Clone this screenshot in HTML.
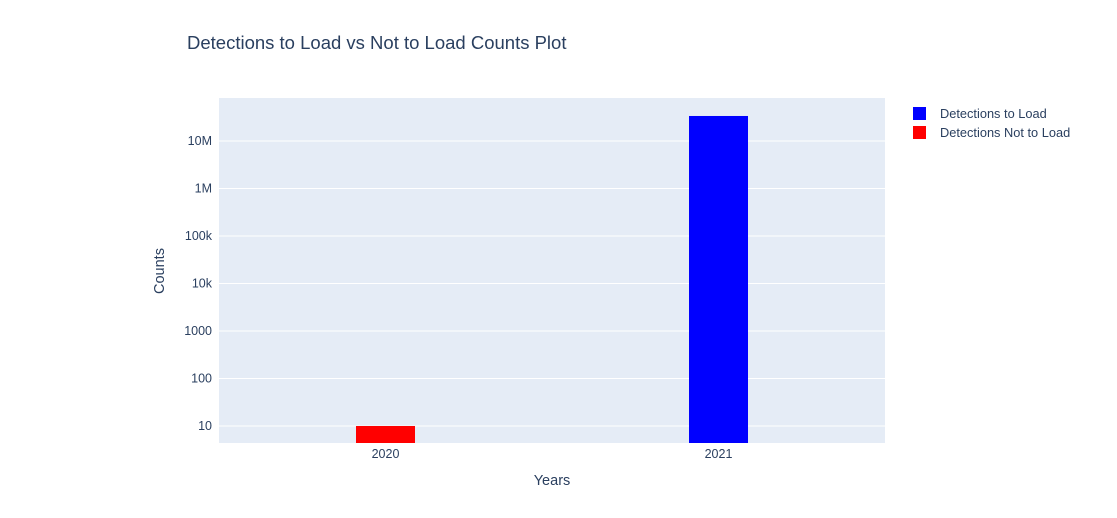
<!DOCTYPE html>
<html><head><meta charset="utf-8"><style>
body{margin:0;background:#fff;font-family:"Liberation Sans",Arial,sans-serif}
svg text{font-family:"Liberation Sans",Arial,sans-serif}
</style></head><body>
<svg id="c" width="1117" height="513">
<rect x="0" y="0" width="1117" height="513" fill="#fff"/>
<text x="187" y="49" font-size="18.5" fill="#2a3f5f">Detections to Load vs Not to Load Counts Plot</text>
<rect x="219" y="98" width="666" height="345" fill="#e5ecf6"/>
<g id="grid"></g><g id="bars"></g><g id="ticks"></g>
<text x="552" y="485" font-size="14.5" fill="#2a3f5f" text-anchor="middle">Years</text>
<text x="164" y="271" font-size="14.5" fill="#2a3f5f" text-anchor="middle" transform="rotate(-90 164 271)">Counts</text>
<g><rect x="913" y="107" width="13" height="13" fill="#0000ff"/><text x="940" y="118" font-size="12.8" fill="#2a3f5f">Detections to Load</text></g>
<g><rect x="913" y="126" width="13" height="13" fill="#ff0000"/><text x="940" y="137" font-size="12.8" fill="#2a3f5f">Detections Not to Load</text></g>
</svg>
<script>
const categories=["2020","2021"];
const loadValues=[0,33600000];
const notLoadValues=[10,0];
const tickValues=[10,100,1000,10000,100000,1000000,10000000];
const tickLabels=["10","100","1000","10k","100k","1M","10M"];
const NS="http://www.w3.org/2000/svg";
const X0=219,W=666,Y0=98,H=345,LMIN=0.642,LMAX=7.905;
function y(v){return Y0+H-(Math.log10(v)-LMIN)/(LMAX-LMIN)*H;}
function xc(i){return X0+W*(i+0.5)/categories.length;}
function mk(t,a,p){const e=document.createElementNS(NS,t);for(const k in a)e.setAttribute(k,a[k]);p.appendChild(e);return e;}
const g=document.getElementById('grid'),b=document.getElementById('bars'),tk=document.getElementById('ticks');
tickValues.forEach((v,i)=>{
 const l=mk('line',{x1:X0,x2:X0+W,y1:y(v),y2:y(v),stroke:'#fff','stroke-width':1},g);
 
 
 const t=mk('text',{x:X0-7,y:y(v)+4,'font-size':12.5,fill:'#2a3f5f','text-anchor':'end'},tk);
 t.textContent=tickLabels[i];
 
 
});
const bw=59;
function bar(v,i,col){
 if(!v||v<=0)return;
 const top=y(v);
 const r=mk('rect',{x:xc(i)-bw/2,y:top,width:bw,height:Y0+H-top,fill:col},b);
 
 
}
categories.forEach((c,i)=>{
 bar(loadValues[i],i,'#0000ff');
 bar(notLoadValues[i],i,'#ff0000');
 const t=mk('text',{x:xc(i),y:458,'font-size':12.5,fill:'#2a3f5f','text-anchor':'middle'},tk);
 t.textContent=c;
 
 
});
</script>
</body></html>
